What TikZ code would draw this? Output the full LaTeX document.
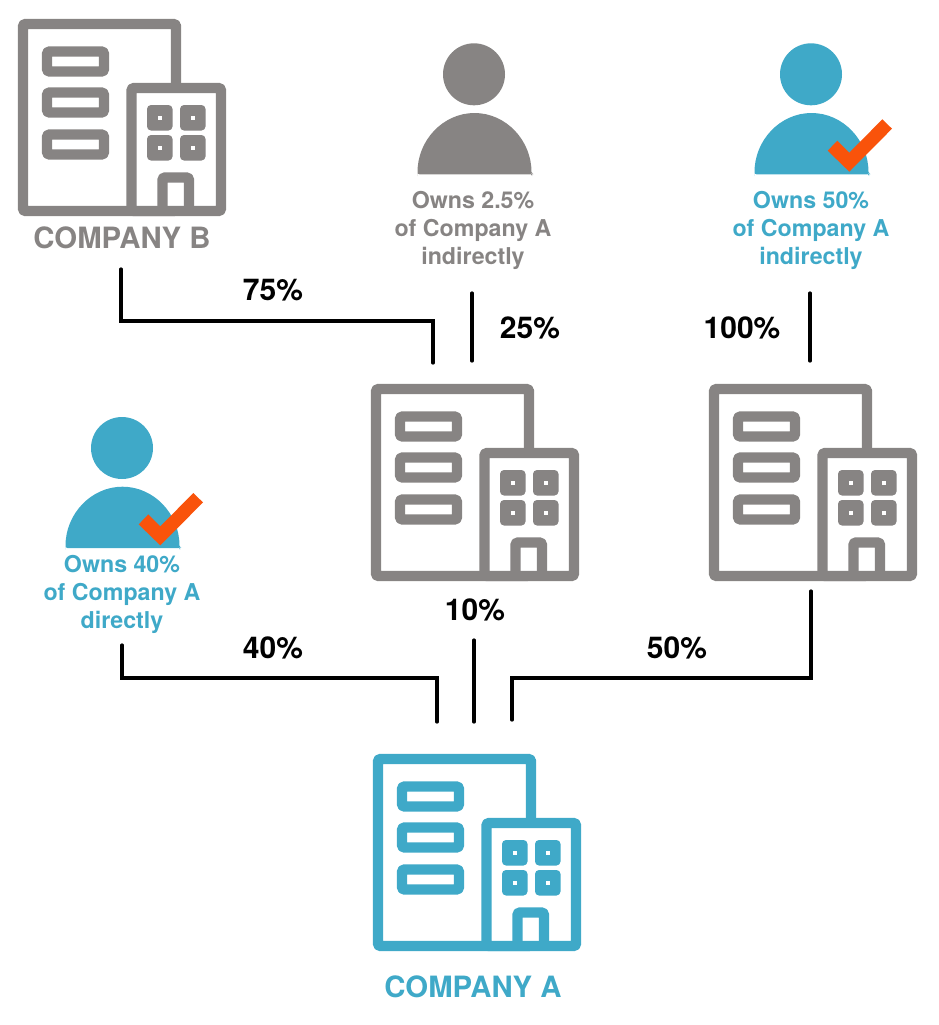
\documentclass[tikz,border=0pt]{standalone}
\usepackage{fontspec}
\setmainfont{TeX Gyre Heros}
\definecolor{bgray}{HTML}{878483}
\definecolor{bblue}{HTML}{3FA9C8}
\definecolor{bora}{HTML}{F9530B}
\tikzset{
  x=0.75pt,y=-0.75pt,
  conn/.style={draw=black,line width=2.4pt,line cap=round,line join=miter},
  bline/.style={line width=7.6pt,line join=round,rounded corners=1pt},
  lab/.style={font=\fontsize{17.4pt}{21pt}\selectfont\bfseries,align=center,inner sep=0pt},
  pct/.style={font=\fontsize{22.5pt}{24pt}\selectfont\bfseries,text=black,inner sep=0pt},
  cname/.style={font=\fontsize{22pt}{24pt}\selectfont\bfseries,inner sep=0pt},
  building/.pic={
    \begin{scope}[bline]
      \draw (5,5) rectangle (158,192);
      \fill[white] (109,65) rectangle (207,192);
      \draw (113.5,69) rectangle (203,192);
      \draw (158,5) -- (158,69);
      \draw (29,32.5) rectangle (86,52.5);
      \draw (29,73.5) rectangle (86,93.5);
      \draw (29,115.5) rectangle (86,135.5);
      \foreach \wx in {129,162}\foreach \wy in {86,116}{
        \fill[rounded corners=3pt] (\wx,\wy) rectangle ++(25.5,25.5);
        \fill[white,rounded corners=0pt] (\wx+10.5,\wy+10.5) rectangle ++(4.5,4.5);
      }
      \draw (144.5,192) -- (144.5,158.5) -- (171,158.5) -- (171,192);
    \end{scope}
  },
  person/.pic={
    \fill (0,0) circle[radius=31];
    \fill[rounded corners=1.5pt] (-56.5,100) -- (-56.5,99.7) arc[x radius=57,y radius=61,start angle=180,end angle=360] -- (58,99.7) -- (58,100) -- cycle;
  },
  checkmark/.pic={
    \fill[bora] (16.7,76.4) -- (26.3,66.4) -- (38.3,78.4) -- (71.3,45) -- (81,54.4) -- (38.3,97.4) -- cycle;
  }
}
\begin{document}
\begin{tikzpicture}
\useasboundingbox (0,0) rectangle (939,1025);
% buildings
\pic[color=bgray] (bB) at (18,19) {building};
\pic[color=bgray] (bM) at (371,384) {building};
\pic[color=bgray] (bR) at (709,384) {building};
\pic[color=bblue] (bA) at (373,754) {building};
% people
\pic[color=bgray,fill=bgray] (pG) at (474,74.3) {person};
\pic[color=bblue,fill=bblue] (pB) at (811,74.3) {person};
\pic (cB) at (811,74.3) {checkmark};
\pic[color=bblue,fill=bblue] (pL) at (122,448) {person};
\pic (cL) at (122,448) {checkmark};
% text
\node[cname,text=bgray] (nB) at (122,238) {COMPANY B};
\node[cname,text=bblue] (nA) at (473,987) {COMPANY A};
\node[lab,text=bgray] (tG) at (473,230) {Owns 2.5\%\\of Company A\\indirectly};
\node[lab,text=bblue] (tB) at (811,230) {Owns 50\%\\of Company A\\indirectly};
\node[lab,text=bblue] (tL) at (122,594) {Owns 40\%\\of Company A\\directly};
\node[pct] (p75) at (273,290) {75\%};
\node[pct] (p25) at (530,328) {25\%};
\node[pct] (p100) at (742,328) {100\%};
\node[pct] (p10) at (475,610) {10\%};
\node[pct] (p40) at (273,648) {40\%};
\node[pct] (p50) at (677,648) {50\%};
% connector ends
\coordinate (a1) at (121,269); \coordinate (a2) at (433,363);
\coordinate (b1) at (472,293); \coordinate (b2) at (472,361);
\coordinate (c1) at (810,293); \coordinate (c2) at (810,361);
\coordinate (d1) at (122,645); \coordinate (d2) at (437,722);
\coordinate (e1) at (474,640); \coordinate (e2) at (474,722);
\coordinate (f1) at (811,591); \coordinate (f2) at (512,720);
\draw[conn] (a1) -- (121,321) -- (433,321) -- (a2);
\draw[conn] (b1) -- (b2);
\draw[conn] (c1) -- (c2);
\draw[conn] (d1) -- (122,678) -- (437,678) -- (d2);
\draw[conn] (e1) -- (e2);
\draw[conn] (f1) -- (811,678) -- (512,678) -- (f2);
\end{tikzpicture}
\end{document}
